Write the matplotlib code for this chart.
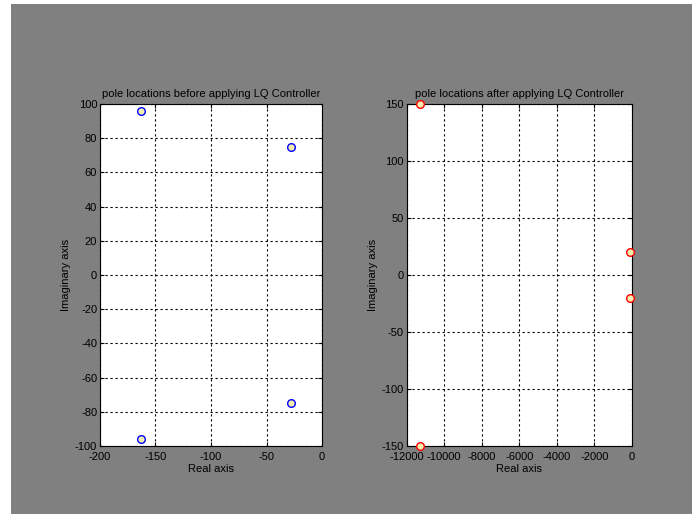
import numpy as np
import matplotlib
matplotlib.use("Agg")
import matplotlib.pyplot as plt
from matplotlib.patches import Rectangle

# poles before LQ control
before_re = [-163, -163, -28, -28]
before_im = [96, -96, 75, -75]

# poles after LQ control
after_re = [-11300, -11300, -100, -100]
after_im = [150, -150, 20, -20]

left_xticks = [-200, -150, -100, -50, 0]
left_yticks = [-100, -80, -60, -40, -20, 0, 20, 40, 60, 80, 100]
right_xticks = [-12000, -10000, -8000, -6000, -4000, -2000, 0]
right_yticks = [-150, -100, -50, 0, 50, 100, 150]

plt.rcParams['font.family'] = ['Liberation Sans', 'DejaVu Sans']
plt.rcParams['font.size'] = 8
plt.rcParams['axes.unicode_minus'] = False

fig = plt.figure(figsize=(6.99, 5.14), dpi=100, facecolor='white')
fig.patches.append(Rectangle((11/699, 0), 681/699, 510/514, transform=fig.transFigure,
                             facecolor='#808080', edgecolor='none', zorder=-10))


def setup(ax, xt, yt, title):
    ax.set_facecolor('white')
    ax.set_xticks(xt)
    ax.set_yticks(yt)
    ax.set_xlim(xt[0], xt[-1])
    ax.set_ylim(yt[0], yt[-1])
    ax.grid(True, color='black', linestyle=(0, (2, 2.5)), linewidth=0.8)
    ax.tick_params(direction='in', length=3, top=True, right=True, colors='black')
    ax.tick_params(axis='x', pad=4)
    ax.tick_params(axis='y', pad=2)
    for s in ax.spines.values():
        s.set_color('black')
        s.set_linewidth(0.8)
    ax.set_title(title, fontsize=8, pad=5)
    ax.set_xlabel('Real axis', labelpad=2)
    ax.set_ylabel('Imaginary axis', labelpad=3)


ax1 = fig.add_axes([100/699, 1-446/514, 222/699, 342/514])
setup(ax1, left_xticks, left_yticks, 'pole locations before applying LQ Controller')
ax1.plot(before_re, before_im, 'o', markersize=5.5, markeredgecolor='blue',
         markerfacecolor='#f2eeb0', markeredgewidth=1, clip_on=False, zorder=5)

ax2 = fig.add_axes([406.7/699, 1-446/514, 225/699, 342/514])
setup(ax2, right_xticks, right_yticks, 'pole locations after applying LQ Controller')
ax2.plot(after_re, after_im, 'o', markersize=5.5, markeredgecolor='red',
         markerfacecolor='#f2eeb0', markeredgewidth=1, clip_on=False, zorder=5)

fig.savefig('out.png', dpi=100, facecolor=fig.get_facecolor())
